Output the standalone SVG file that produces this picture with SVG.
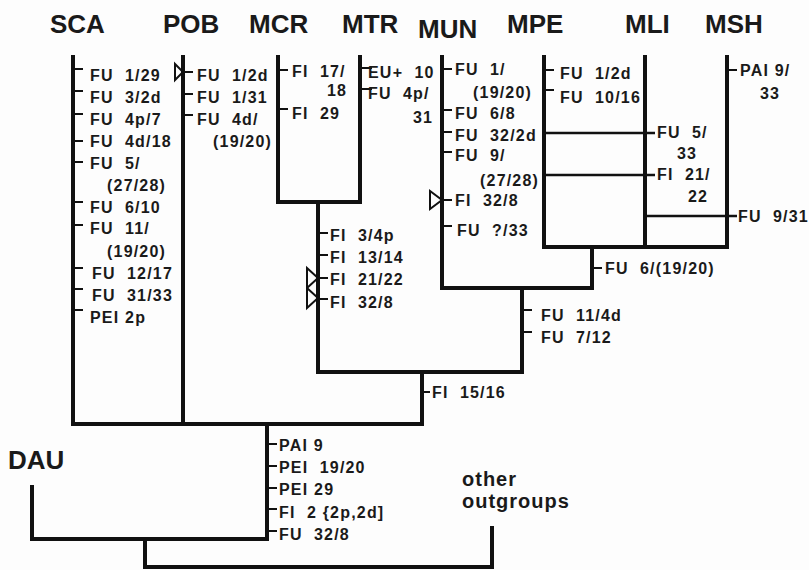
<svg xmlns="http://www.w3.org/2000/svg" width="809" height="570" viewBox="0 0 809 570">
<style>
.ln{stroke:#111;stroke-width:4;fill:none;stroke-linecap:square;stroke-linejoin:miter}
.hl{stroke:#111;stroke-width:2.5;fill:none}
.tk{stroke:#111;stroke-width:2;fill:none}
.tri{fill:none;stroke:#111;stroke-width:2;stroke-linejoin:miter}
text{font-family:"Liberation Sans",Arial,Helvetica,sans-serif;font-weight:bold;fill:#1a1a1a;white-space:pre}
.c{font-size:16px;letter-spacing:1.2px}
.h{font-size:26px}
.o{font-size:20px;letter-spacing:1px}
</style>
<rect width="809" height="570" fill="#fdfdfd"/>

<g id="connectors">
  <path class="ln" d="M73,57 V424 M183,57 V424 M73,424 H422"/>
  <path class="ln" d="M278,57 V202 H360 V57 M318,202 V372"/>
  <path class="ln" d="M442,57 V288 H592 M522,288 V372 M318,372 H522 M422,372 V424"/>
  <path class="ln" d="M544,57 V247 H727 V57 M645,57 V247 M592,247 V288"/>
  <path class="hl" d="M544,133 H655 M544,175 H655 M645,216 H737"/>
  <path class="ln" d="M267,424 V539 H32 V487 M145,539 V567 H492 V528"/>
</g>

<g id="node-SCA"><text class="h" x="50" y="33">SCA</text></g>
<g id="node-POB"><text class="h" x="163" y="33">POB</text></g>
<g id="node-MCR"><text class="h" x="249" y="33">MCR</text></g>
<g id="node-MTR"><text class="h" x="342" y="33">MTR</text></g>
<g id="node-MUN"><text class="h" x="418" y="38">MUN</text></g>
<g id="node-MPE"><text class="h" x="507" y="33">MPE</text></g>
<g id="node-MLI"><text class="h" x="625" y="33">MLI</text></g>
<g id="node-MSH"><text class="h" x="705" y="33">MSH</text></g>
<g id="node-DAU"><text class="h" x="8" y="469">DAU</text></g>
<g id="node-other"><text class="o" x="462" y="486">other</text><text class="o" x="462" y="508">outgroups</text></g>

<g id="chars-SCA">
  <path class="tk" d="M73,69 H83 M73,91 H83 M73,114 H83 M73,141 H83 M73,162 H83 M73,202 H83 M73,225 H83 M73,268 H83 M73,289 H83 M73,310 H83"/>
  <text class="c" x="90" y="81">FU  1/29</text>
  <text class="c" x="90" y="103">FU  3/2d</text>
  <text class="c" x="90" y="125">FU  4p/7</text>
  <text class="c" x="90" y="147">FU  4d/18</text>
  <text class="c" x="90" y="169">FU  5/</text>
  <text class="c" x="107" y="191">(27/28)</text>
  <text class="c" x="90" y="213">FU  6/10</text>
  <text class="c" x="90" y="234">FU  11/</text>
  <text class="c" x="107" y="257">(19/20)</text>
  <text class="c" x="92" y="279">FU  12/17</text>
  <text class="c" x="92" y="301">FU  31/33</text>
  <text class="c" x="90" y="323">PEI 2p</text>
</g>

<g id="chars-POB">
  <path class="tk" d="M183,72 H193 M183,94 H193 M183,115 H193"/>
  <polygon class="tri" points="175,64 175,80 183,72"/>
  <text class="c" x="197" y="81">FU  1/2d</text>
  <text class="c" x="197" y="103">FU  1/31</text>
  <text class="c" x="197" y="125">FU  4d/</text>
  <text class="c" x="213" y="147">(19/20)</text>
</g>

<g id="chars-MCR">
  <path class="tk" d="M278,70 H288 M278,109 H288"/>
  <text class="c" x="292" y="77">FI  17/</text>
  <text class="c" x="327" y="96">18</text>
  <text class="c" x="292" y="119">FI  29</text>
</g>

<g id="chars-MTR">
  <path class="tk" d="M360,68 H372 M360,89 H372"/>
  <text class="c" x="368" y="78">EU+  10</text>
  <text class="c" x="368" y="99">FU  4p/</text>
  <text class="c" x="413" y="123">31</text>
</g>

<g id="chars-MCR-MTR">
  <path class="tk" d="M318,233 H328 M318,255 H328 M318,278 H328 M318,299 H328"/>
  <polygon class="tri" points="307,268 307,288 318,278"/>
  <polygon class="tri" points="307,288 307,308 318,298"/>
  <text class="c" x="330" y="241">FI  3/4p</text>
  <text class="c" x="330" y="263">FI  13/14</text>
  <text class="c" x="330" y="285">FI  21/22</text>
  <text class="c" x="330" y="308">FI  32/8</text>
</g>

<g id="chars-MUN">
  <path class="tk" d="M442,69 H452 M442,110 H452 M442,132 H452 M442,152 H452 M442,200 H452 M442,226 H452"/>
  <polygon class="tri" points="430,191 430,209 442,200"/>
  <text class="c" x="455" y="75">FU  1/</text>
  <text class="c" x="473" y="98">(19/20)</text>
  <text class="c" x="455" y="119">FU  6/8</text>
  <text class="c" x="455" y="141">FU  32/2d</text>
  <text class="c" x="455" y="161">FU  9/</text>
  <text class="c" x="480" y="186">(27/28)</text>
  <text class="c" x="455" y="206">FI  32/8</text>
  <text class="c" x="457" y="236">FU  ?/33</text>
</g>

<g id="chars-MPE">
  <path class="tk" d="M544,70 H554 M544,90 H554"/>
  <text class="c" x="560" y="79">FU  1/2d</text>
  <text class="c" x="560" y="103">FU  10/16</text>
</g>

<g id="chars-MLI">
  <text class="c" x="657" y="138">FU  5/</text>
  <text class="c" x="677" y="159">33</text>
  <text class="c" x="657" y="180">FI  21/</text>
  <text class="c" x="688" y="202">22</text>
</g>

<g id="chars-MSH">
  <path class="tk" d="M727,70 H737"/>
  <text class="c" x="740" y="76">PAI 9/</text>
  <text class="c" x="760" y="99">33</text>
  <text class="c" x="738" y="222">FU  9/31</text>
</g>

<g id="chars-MPE-MLI-MSH">
  <path class="tk" d="M592,268 H602"/>
  <text class="c" x="605" y="274">FU  6/(19/20)</text>
</g>

<g id="chars-MUN-group">
  <path class="tk" d="M522,310 H532 M522,332 H532"/>
  <text class="c" x="541" y="321">FU  11/4d</text>
  <text class="c" x="541" y="343">FU  7/12</text>
</g>

<g id="chars-MCR-MUN">
  <path class="tk" d="M422,392 H430"/>
  <text class="c" x="432" y="398">FI  15/16</text>
</g>

<g id="chars-ingroup">
  <path class="tk" d="M267,444 H277 M267,466 H277 M267,488 H277 M267,509 H277 M267,531 H277"/>
  <text class="c" x="279" y="451">PAI 9</text>
  <text class="c" x="279" y="473">PEI  19/20</text>
  <text class="c" x="279" y="495">PEI 29</text>
  <text class="c" x="279" y="518">FI  2 {2p,2d]</text>
  <text class="c" x="279" y="540">FU  32/8</text>
</g>
</svg>
